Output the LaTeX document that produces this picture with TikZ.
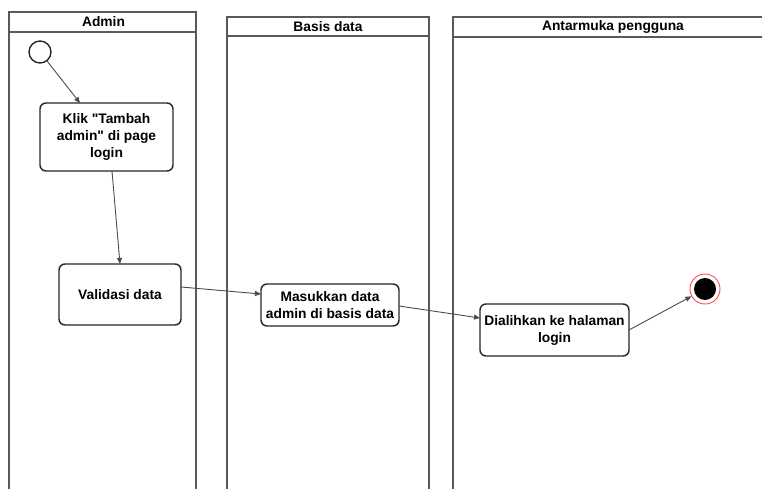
\documentclass[tikz,border=0pt]{standalone}
\usepackage{fontspec}
\setmainfont{Liberation Sans}
\usetikzlibrary{arrows.meta}
\begin{document}
\begin{tikzpicture}[x=1pt,y=-1pt,
  lane/.style={draw=black!65,line width=1.6pt},
  act/.style={draw=black!85,line width=1.4pt,rounded corners=6pt,fill=white,align=center,font=\fontsize{13.8}{17}\selectfont\bfseries,inner sep=1pt},
  flow/.style={draw=black!70,line width=0.9pt,-{Triangle[length=6pt,width=5pt]}},
  lanetitle/.style={font=\fontsize{13.8}{16}\selectfont\bfseries}]
\useasboundingbox (0,0) rectangle (762,489);
\clip (0,0) rectangle (762,489);
\fill[white] (0,0) rectangle (762,489);
% lanes
\draw[lane] (9,495) -- (9,12) -- (196,12) -- (196,495);
\draw[lane] (9,32) -- (196,32);
\draw[lane] (227,495) -- (227,17) -- (429,17) -- (429,495);
\draw[lane] (227,36) -- (429,36);
\draw[lane] (453,495) -- (453,17) -- (775,17) -- (775,495);
\draw[lane] (453,37) -- (775,37);
\node[lanetitle] (tA) at (103.5,22) {Admin};
\node[lanetitle] (tB) at (328,26.5) {Basis data};
\node[lanetitle] (tC) at (613,27) {Antarmuka pengguna};
% nodes
\node[circle,draw=black!85,line width=1.4pt,minimum size=22pt,inner sep=0pt] (start) at (40,52) {};
\node[act,minimum width=133pt,minimum height=68pt] (klik) at (106.5,137) {Klik \textquotedbl Tambah\\admin\textquotedbl{} di page\\login};
\node[act,minimum width=122pt,minimum height=61pt] (val) at (120,294.5) {Validasi data};
\node[act,minimum width=138pt,minimum height=42pt] (mas) at (330,305) {Masukkan data\\admin di basis data};
\node[act,minimum width=149pt,minimum height=52pt] (dia) at (554.5,330) {Dialihkan ke halaman\\login};
\node[circle,draw=red!70,line width=0.9pt,minimum size=30pt,inner sep=0pt,fill=white] (end) at (705,289) {};
\node[circle,fill=black,minimum size=22pt,inner sep=0pt] (endin) at (end.center) {};
% flows
\draw[flow] (start) -- (80,103);
\draw[flow] (112,171) -- (120,264);
\draw[flow] (181,287) -- (261,294);
\draw[flow] (399,306) -- (480,318);
\draw[flow] (629,330) -- (end);
\end{tikzpicture}
\end{document}
